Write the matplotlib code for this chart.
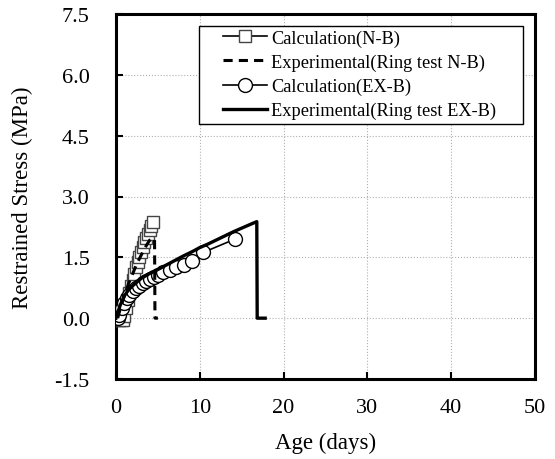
import matplotlib
matplotlib.use('Agg')
import matplotlib.pyplot as plt
from matplotlib.patches import Rectangle

plt.rcParams['font.family'] = ['Liberation Serif', 'DejaVu Serif']

# Calculation (N-B)
calc_nb_day = [0.0, 0.2, 0.4, 0.6, 0.8, 1.0, 1.2, 1.4, 1.6, 1.8, 2.0, 2.2, 2.4,
               2.6, 2.8, 3.0, 3.2, 3.4, 3.6, 3.8, 4.0, 4.2, 4.4]
calc_nb_val = [0.0, -0.02, -0.04, -0.05, -0.04, 0.05, 0.25, 0.45, 0.62, 0.8, 0.95,
               1.1, 1.25, 1.38, 1.5, 1.62, 1.75, 1.87, 1.98, 2.08, 2.17, 2.27, 2.36]

# Experimental (Ring test N-B)
exp_nb_day = [0.2, 0.6, 1.0, 1.5, 2.0, 2.5, 3.0, 3.5, 4.0, 4.6, 4.65, 5.0]
exp_nb_val = [0.0, 0.3, 0.55, 0.85, 1.1, 1.35, 1.55, 1.75, 1.92, 1.97, 0.0, 0.0]

# Calculation (EX-B)
calc_ex_day = [0.0, 0.2, 0.4, 0.7, 1.0, 1.3, 1.6, 2.0, 2.4, 2.8, 3.2, 3.6, 4.0,
               4.5, 5.0, 5.6, 6.4, 7.2, 8.1, 9.1, 10.4, 14.2]
calc_ex_val = [0.0, 0.0, 0.08, 0.25, 0.38, 0.5, 0.58, 0.66, 0.74, 0.8, 0.86, 0.91,
               0.96, 1.01, 1.06, 1.13, 1.2, 1.25, 1.3, 1.4, 1.62, 1.95]

# Experimental (Ring test EX-B)
exp_ex_day = [0.0, 0.5, 1.0, 1.5, 2.0, 3.0, 4.0, 5.0, 6.0, 7.0, 8.0, 9.0, 10.0,
              11.0, 12.0, 13.0, 14.0, 15.0, 16.0, 16.8, 16.85, 17.8]
exp_ex_val = [0.0, 0.32, 0.55, 0.7, 0.8, 0.98, 1.1, 1.2, 1.31, 1.42, 1.53, 1.63, 1.74,
              1.83, 1.93, 2.03, 2.13, 2.22, 2.31, 2.38, 0.0, 0.0]

fig = plt.figure(figsize=(5.55, 4.6), dpi=100)
ax = fig.add_axes([116 / 555, 80 / 460, 419 / 555, 365 / 460])

ax.plot(calc_nb_day, calc_nb_val, color='black', linewidth=1.2, marker='s',
        markersize=9, markerfacecolor='white', markeredgecolor='#444444',
        markeredgewidth=1.0, label='Calculation(N-B)', zorder=3)
ax.plot(exp_nb_day, exp_nb_val, color='black', linewidth=2.2, linestyle=(0, (3, 2)),
        label='Experimental(Ring test N-B)', zorder=4)
ax.plot(calc_ex_day, calc_ex_val, color='black', linewidth=1.2, marker='o',
        markersize=10, markerfacecolor='white', markeredgecolor='black',
        markeredgewidth=1.0, label='Calculation(EX-B)', zorder=3)
ax.plot(exp_ex_day, exp_ex_val, color='black', linewidth=2.4,
        label='Experimental(Ring test EX-B)', zorder=5)

ax.set_xlim(0, 50)
ax.set_ylim(-1.5, 7.5)
ax.set_xticks([0, 10, 20, 30, 40, 50])
ax.set_yticks([-1.5, 0.0, 1.5, 3.0, 4.5, 6.0, 7.5])
ax.set_yticklabels(['-1.5', '0.0', '1.5', '3.0', '4.5', '6.0', '7.5'])
ax.grid(True, color='#b0b0b0', linestyle=':', linewidth=0.8)
ax.set_axisbelow(True)
ax.tick_params(direction='in', length=5, width=1.5, labelsize=16)
ax.tick_params(axis='y', pad=19)
ax.tick_params(axis='x', pad=14)
for s in ax.spines.values():
    s.set_linewidth(2.2)

ax.set_xlabel('Age (days)', fontsize=16.5)
ax.set_ylabel('Restrained Stress (MPa)', fontsize=16.5)
ax.xaxis.set_label_coords(0.5, -0.173)
ax.yaxis.set_label_coords(-0.224, 0.5)
ax.xaxis.label.set_va('center')
ax.yaxis.label.set_va('center')

# legend frame drawn separately (extra room on the left of the handles)
ax.add_patch(Rectangle((0.198, 0.699), 0.773, 0.268, transform=ax.transAxes,
                       facecolor='white', edgecolor='black', linewidth=1.0, zorder=6))
leg = ax.legend(loc='upper left', bbox_to_anchor=(0.255, 0.958), fontsize=13.2,
                frameon=False, handlelength=2.4, handletextpad=0.25, borderpad=0,
                labelspacing=0.38, borderaxespad=0)
leg.set_zorder(7)

fig.savefig('out.png', dpi=100)
